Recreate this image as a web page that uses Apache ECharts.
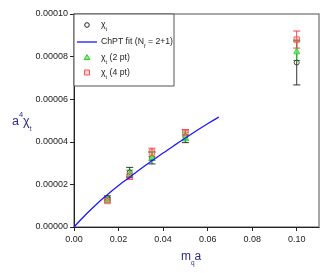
<!DOCTYPE html>
<html><head><meta charset="utf-8">
<script src="https://cdn.jsdelivr.net/npm/echarts@6/dist/echarts.min.js"></script>
<style>html,body{margin:0;padding:0;background:#fff}#c{width:327px;height:273px}</style>
</head><body><div id="c"></div>
<script>
var mq = [0.015, 0.025, 0.035, 0.05, 0.10];
var chiT = [1.36e-5, 2.56e-5, 3.24e-5, 4.26e-5, 7.72e-5];
var chiTErr = [0.10e-5, 0.24e-5, 0.28e-5, 0.30e-5, 1.05e-5];
var chi2pt = [1.30e-5, 2.52e-5, 3.32e-5, 4.25e-5, 8.27e-5];
var chi2ptErr = [0.08e-5, 0.15e-5, 0.20e-5, 0.20e-5, 0.45e-5];
var chi4pt = [1.22e-5, 2.36e-5, 3.50e-5, 4.45e-5, 8.80e-5];
var chi4ptErr = [0.08e-5, 0.12e-5, 0.20e-5, 0.12e-5, 0.40e-5];
var fitX = [0, 0.005, 0.01, 0.015, 0.02, 0.025, 0.03, 0.035, 0.04, 0.045, 0.05, 0.055, 0.06, 0.065];
var fitY = [0, 0.55e-5, 1.06e-5, 1.52e-5, 1.95e-5, 2.34e-5, 2.73e-5, 3.11e-5, 3.47e-5, 3.83e-5, 4.18e-5, 4.52e-5, 4.85e-5, 5.16e-5];
var legendLabels = ['χ{s|t}', 'ChPT fit (N{s|f} = 2+1)', 'χ{s|t} (2 pt)', 'χ{s|t} (4 pt)'];
var yTicks = {min: 0, max: 0.0001, interval: 0.00002};
var xTicks = {min: 0, max: 0.11, interval: 0.02};

var FONT = "'Liberation Sans', Arial, sans-serif";
var C_BLACK = '#222', C_GREEN = '#22cc22', C_RED = '#ff5050', C_BLUE = '#1a1aff', C_TITLE = '#2b2b85';
function pairs(xs, ys) { return xs.map(function (x, i) { return [x, ys[i]]; }); }
function errData(xs, ys, es) { return xs.map(function (x, i) { return [x, ys[i] - es[i], ys[i] + es[i]]; }); }
function errSeries(data, color) {
  return {
    type: 'custom', data: data, silent: true, z: 2,
    renderItem: function (params, api) {
      var lo = api.coord([api.value(0), api.value(1)]);
      var hi = api.coord([api.value(0), api.value(2)]);
      var w = 3.5;
      var st = {stroke: color, lineWidth: 1};
      return {type: 'group', children: [
        {type: 'line', shape: {x1: lo[0], y1: lo[1], x2: hi[0], y2: hi[1]}, style: st},
        {type: 'line', shape: {x1: lo[0] - w, y1: lo[1], x2: lo[0] + w, y2: lo[1]}, style: st},
        {type: 'line', shape: {x1: hi[0] - w, y1: hi[1], x2: hi[0] + w, y2: hi[1]}, style: st}
      ]};
    }
  };
}
var subRich = {s: {fontSize: 5.5, fontFamily: FONT, fill: C_BLACK, verticalAlign: 'bottom', padding: [0, 0, -3, 0]}};
function legendText(i, y) {
  return {type: 'text', x: 101, y: y, z: 101,
    style: {text: legendLabels[i], fill: C_BLACK, font: '8.7px ' + FONT, verticalAlign: 'middle', rich: subRich}};
}
var legendY = [25, 42, 57.5, 72.5];
var legendGraphic = {type: 'group', z: 100, children: [
  {type: 'rect', shape: {x: 74, y: 14, width: 100, height: 72}, style: {fill: '#fff', stroke: '#555', lineWidth: 1}, z: 100},
  {type: 'circle', shape: {cx: 87, cy: legendY[0], r: 2.3}, style: {fill: 'none', stroke: C_BLACK, lineWidth: 1}, z: 101},
  {type: 'line', shape: {x1: 77, y1: legendY[1], x2: 97, y2: legendY[1]}, style: {stroke: C_BLUE, lineWidth: 1.3}, z: 101},
  {type: 'polygon', shape: {points: [[87, legendY[2] - 2.8], [84.2, legendY[2] + 2], [89.8, legendY[2] + 2]]}, style: {fill: '#8ff08f', stroke: C_GREEN, lineWidth: 1}, z: 101},
  {type: 'rect', shape: {x: 84.5, y: legendY[3] - 2.5, width: 5, height: 5}, style: {fill: 'rgba(255,140,140,0.35)', stroke: C_RED, lineWidth: 1}, z: 101},
  legendText(0, legendY[0]), legendText(1, legendY[1]), legendText(2, legendY[2]), legendText(3, legendY[3])
]};

var chart = echarts.init(document.getElementById('c'), null, {renderer: 'canvas'});
chart.setOption({
  animation: false,
  grid: {left: 74, top: 14, right: 8, bottom: 46, show: true, borderColor: '#8a8a8a', borderWidth: 1.5, backgroundColor: 'transparent'},
  xAxis: {
    type: 'value', min: xTicks.min, max: xTicks.max, interval: xTicks.interval,
    axisLine: {show: true, lineStyle: {color: '#222', width: 1}},
    axisTick: {show: true, inside: false, length: 4, lineStyle: {color: '#222'}},
    splitLine: {show: false},
    axisLabel: {showMaxLabel: false, fontFamily: FONT, fontSize: 9, color: '#222', margin: 8,
      formatter: function (v) { return v.toFixed(2); }}
  },
  yAxis: {
    type: 'value', min: yTicks.min, max: yTicks.max, interval: yTicks.interval,
    axisLine: {show: true, lineStyle: {color: '#222', width: 1}},
    axisTick: {show: true, inside: false, length: 4, lineStyle: {color: '#222'}},
    splitLine: {show: false},
    axisLabel: {fontFamily: FONT, fontSize: 9, color: '#222', margin: 6,
      formatter: function (v) { return v.toFixed(5); }}
  },
  graphic: [
    legendGraphic,
    {type: 'text', x: 12, y: 122, style: {text: 'a{p|4}χ{s|t}', fill: C_TITLE, font: '12.5px ' + FONT, verticalAlign: 'middle',
      rich: {p: {fontSize: 7.5, fontFamily: FONT, fill: C_TITLE, verticalAlign: 'top', padding: [-5, 0, 0, 0]},
             s: {fontSize: 6.5, fontFamily: FONT, fill: C_TITLE, verticalAlign: 'bottom', padding: [0, 0, -4, 0]}}}},
    {type: 'text', x: 181, y: 257, style: {text: 'm{s|q}a', fill: C_TITLE, font: '12px ' + FONT, verticalAlign: 'middle',
      rich: {s: {fontSize: 6.5, fontFamily: FONT, fill: C_TITLE, verticalAlign: 'bottom', padding: [0, 0, -4, 0]}}}}
  ],
  series: [
    errSeries(errData(mq, chiT, chiTErr), '#333'),
    {name: 'chi', type: 'scatter', data: pairs(mq, chiT), symbol: 'circle', symbolSize: 5, z: 3,
      itemStyle: {color: 'transparent', borderColor: C_BLACK, borderWidth: 1}},
    errSeries(errData(mq, chi2pt, chi2ptErr), '#2bbf2b'),
    {name: 'chi2', type: 'scatter', data: pairs(mq, chi2pt), symbol: 'triangle', symbolSize: 6, z: 3,
      itemStyle: {color: '#6fe86f', borderColor: C_GREEN, borderWidth: 1}},
    errSeries(errData(mq, chi4pt, chi4ptErr), '#ee4444'),
    {name: 'chi4', type: 'scatter', data: pairs(mq, chi4pt), symbol: 'rect', symbolSize: 5.5, z: 3,
      itemStyle: {color: 'rgba(255,120,120,0.4)', borderColor: C_RED, borderWidth: 1}},
    {name: 'fit', type: 'line', data: pairs(fitX, fitY), smooth: true, showSymbol: false, symbol: 'none', z: 4,
      lineStyle: {color: C_BLUE, width: 1.3}}
  ]
});
</script></body></html>
